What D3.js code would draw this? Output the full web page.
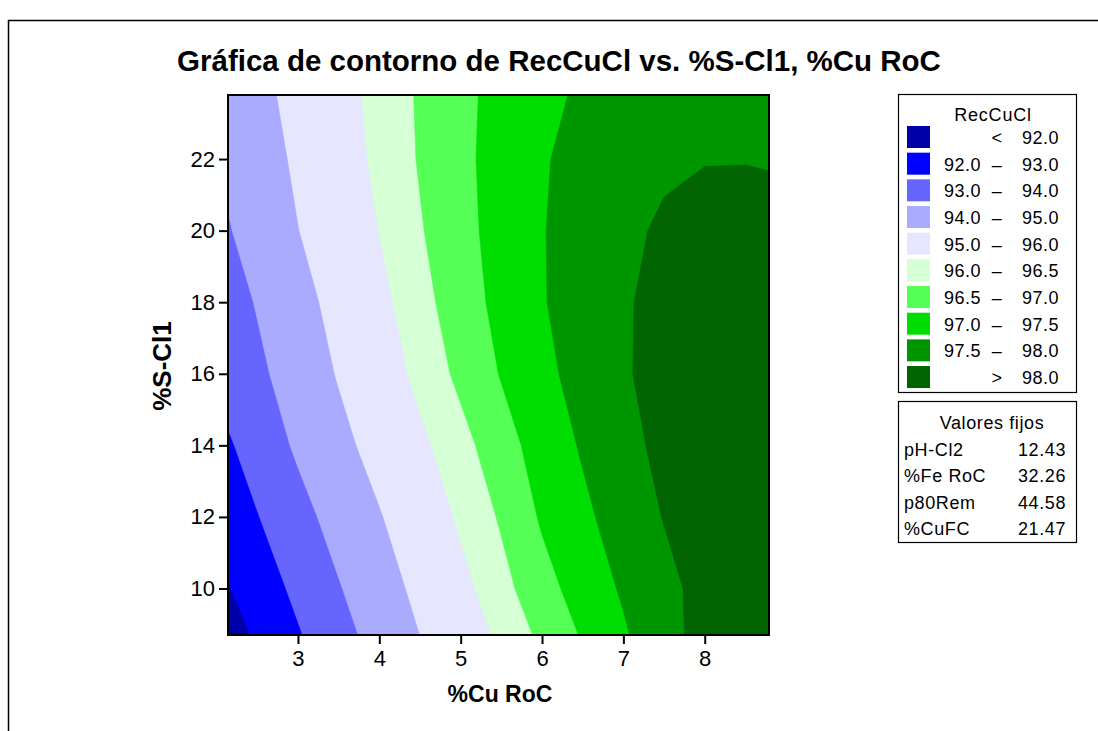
<!DOCTYPE html>
<html>
<head>
<meta charset="utf-8">
<script src="https://cdn.jsdelivr.net/npm/d3@7"></script>
<style>
  body { margin: 0; background: #fff; }
  svg { display: block; font-family: "Liberation Sans", Arial, sans-serif; }
</style>
</head>
<body>
<svg id="chart" width="1098" height="731"></svg>
<script>
// Grid of the fitted response: %Cu RoC (columns) by %S-Cl1 (rows)
const cuRoC = [2.0, 2.5, 3.0, 3.5, 4.0, 4.5, 5.0, 5.5, 6.0, 6.5, 7.0, 7.5, 8.0, 8.5, 9.0];
const sCl1 = [8, 10, 12, 14, 16, 18, 20, 22, 24];
const recCuCl = [
  [91.13, 91.94, 92.75, 93.51, 94.22, 94.88, 95.46, 96.02, 96.50, 96.95, 97.37, 97.78, 98.20, 98.27, 98.30],
  [91.73, 92.48, 93.22, 93.94, 94.59, 95.22, 95.81, 96.34, 96.82, 97.21, 97.56, 97.86, 98.16, 98.24, 98.28],
  [92.24, 92.96, 93.69, 94.34, 94.94, 95.53, 96.10, 96.56, 97.06, 97.40, 97.72, 98.02, 98.20, 98.28, 98.31],
  [92.67, 93.43, 94.14, 94.75, 95.32, 95.87, 96.33, 96.80, 97.21, 97.55, 97.84, 98.13, 98.25, 98.31, 98.33],
  [93.19, 93.81, 94.44, 95.06, 95.63, 96.16, 96.62, 97.03, 97.38, 97.67, 97.94, 98.20, 98.29, 98.34, 98.36],
  [93.43, 94.06, 94.69, 95.28, 95.83, 96.33, 96.77, 97.14, 97.47, 97.71, 97.94, 98.17, 98.27, 98.32, 98.34],
  [93.77, 94.37, 94.98, 95.50, 96.01, 96.46, 96.85, 97.18, 97.48, 97.68, 97.88, 98.08, 98.17, 98.22, 98.24],
  [94.02, 94.58, 95.14, 95.66, 96.14, 96.54, 96.89, 97.18, 97.45, 97.68, 97.81, 97.91, 97.98, 97.98, 97.93],
  [94.21, 94.77, 95.28, 95.76, 96.19, 96.56, 96.89, 97.14, 97.37, 97.56, 97.66, 97.74, 97.79, 97.80, 97.77]
];

// Contour levels and band colours (lowest band first)
const levels = [92, 93, 94, 95, 96, 96.5, 97, 97.5, 98];
const bandColors = ["#0000a8", "#0000ff", "#6666ff", "#aaaaff", "#e6e6ff",
                    "#d5ffd5", "#55ff55", "#00dd00", "#009600", "#006400"];
const bandLow = ["", "92.0", "93.0", "94.0", "95.0", "96.0", "96.5", "97.0", "97.5", ""];
const bandSep = ["<", "–", "–", "–", "–", "–", "–", "–", "–", ">"];
const bandHigh = ["92.0", "93.0", "94.0", "95.0", "96.0", "96.5", "97.0", "97.5", "98.0", "98.0"];

// Factors held constant
const fixedNames = ["pH-Cl2", "%Fe RoC", "p80Rem", "%CuFC"];
const fixedValues = ["12.43", "32.26", "44.58", "21.47"];

const xTicks = [3, 4, 5, 6, 7, 8];
const yTicks = [10, 12, 14, 16, 18, 20, 22];

const svg = d3.select("#chart");
const plot = { left: 228, right: 769, top: 95, bottom: 635 };

const x = d3.scaleLinear().domain([2.14, 8.79]).range([plot.left, plot.right]);
const y = d3.scaleLinear().domain([8.7, 23.79]).range([plot.bottom, plot.top]);

// Page frame
svg.append("path")
  .attr("d", "M8.5,731 V20.5 H1098")
  .attr("fill", "none").attr("stroke", "#000").attr("stroke-width", 1.5);

// Title
svg.append("text")
  .attr("x", 559).attr("y", 71)
  .attr("text-anchor", "middle")
  .attr("font-size", 29.5).attr("font-weight", "bold")
  .text("Gráfica de contorno de RecCuCl vs. %S-Cl1, %Cu RoC");

// Filled contours
svg.append("clipPath").attr("id", "plot-clip")
  .append("rect")
  .attr("x", plot.left).attr("y", plot.top)
  .attr("width", plot.right - plot.left).attr("height", plot.bottom - plot.top);

const nx = cuRoC.length, ny = sCl1.length;
const stepX = cuRoC[1] - cuRoC[0], stepY = sCl1[1] - sCl1[0];
const values = recCuCl.flat();

const contours = d3.contours().size([nx, ny]).thresholds(levels)(values);

const gridProjection = d3.geoTransform({
  point(gx, gy) {
    this.stream.point(x(cuRoC[0] + (gx - 0.5) * stepX), y(sCl1[0] + (gy - 0.5) * stepY));
  }
});
const path = d3.geoPath(gridProjection);

const cg = svg.append("g").attr("clip-path", "url(#plot-clip)");
cg.append("rect")
  .attr("x", plot.left).attr("y", plot.top)
  .attr("width", plot.right - plot.left).attr("height", plot.bottom - plot.top)
  .attr("fill", bandColors[0]);
cg.selectAll("path.band")
  .data(contours)
  .join("path")
  .attr("class", "band")
  .attr("d", path)
  .attr("fill", (d, i) => bandColors[i + 1])
  .attr("stroke", (d, i) => bandColors[i + 1])
  .attr("stroke-width", 0.6);

// Axes
const xAxis = svg.append("g")
  .attr("transform", `translate(0,${plot.bottom})`)
  .call(d3.axisBottom(x).tickValues(xTicks).tickFormat(d3.format("d")).tickSize(9).tickPadding(6));
const yAxis = svg.append("g")
  .attr("transform", `translate(${plot.left},0)`)
  .call(d3.axisLeft(y).tickValues(yTicks).tickFormat(d3.format("d")).tickSize(9).tickPadding(4));

[xAxis, yAxis].forEach(a => {
  a.select(".domain").remove();
  a.selectAll(".tick line").attr("stroke", "#000").attr("stroke-width", 2);
  a.selectAll(".tick text")
    .attr("font-family", "'Liberation Sans', Arial, sans-serif")
    .attr("font-size", 22).attr("fill", "#000");
});

svg.append("rect")
  .attr("x", plot.left).attr("y", plot.top)
  .attr("width", plot.right - plot.left).attr("height", plot.bottom - plot.top)
  .attr("fill", "none").attr("stroke", "#000").attr("stroke-width", 2);

// Axis titles
svg.append("text")
  .attr("x", 500).attr("y", 702)
  .attr("text-anchor", "middle")
  .attr("font-size", 23).attr("font-weight", "bold")
  .text("%Cu RoC");
svg.append("text")
  .attr("transform", `translate(171,366) rotate(-90)`)
  .attr("text-anchor", "middle")
  .attr("font-size", 26).attr("font-weight", "bold")
  .text("%S-Cl1");

// Legend: contour bands
const lg = svg.append("g").attr("font-size", 18).attr("letter-spacing", 0.5);
lg.append("rect")
  .attr("x", 898.5).attr("y", 94.5).attr("width", 178).attr("height", 298)
  .attr("fill", "#fff").attr("stroke", "#000").attr("stroke-width", 1.2);
lg.append("text")
  .attr("x", 993).attr("y", 121).attr("text-anchor", "middle")
  .attr("letter-spacing", 0.8)
  .text("RecCuCl");

const rowH = 26.67;
const rows = lg.selectAll("g.row")
  .data(bandColors)
  .join("g")
  .attr("class", "row")
  .attr("transform", (d, i) => `translate(0,${126 + i * rowH})`);
rows.append("rect")
  .attr("x", 907).attr("y", 0).attr("width", 23).attr("height", 22)
  .attr("fill", d => d);
rows.append("text")
  .attr("x", 944).attr("y", 18)
  .text((d, i) => bandLow[i]);
rows.append("text")
  .attr("x", 997).attr("y", 18).attr("text-anchor", "middle")
  .text((d, i) => bandSep[i]);
rows.append("text")
  .attr("x", 1059).attr("y", 18).attr("text-anchor", "end")
  .text((d, i) => bandHigh[i]);

// Legend: fixed values
const fg = svg.append("g").attr("font-size", 18).attr("letter-spacing", 0.6);
fg.append("rect")
  .attr("x", 898.5).attr("y", 401.5).attr("width", 178).attr("height", 141)
  .attr("fill", "#fff").attr("stroke", "#000").attr("stroke-width", 1.2);
fg.append("text")
  .attr("x", 992).attr("y", 429).attr("text-anchor", "middle")
  .text("Valores fijos");
fixedNames.forEach((name, i) => {
  fg.append("text").attr("x", 904).attr("y", 456 + i * 26.3).text(name);
  fg.append("text").attr("x", 1066).attr("y", 456 + i * 26.3).attr("text-anchor", "end").text(fixedValues[i]);
});
</script>
</body>
</html>
